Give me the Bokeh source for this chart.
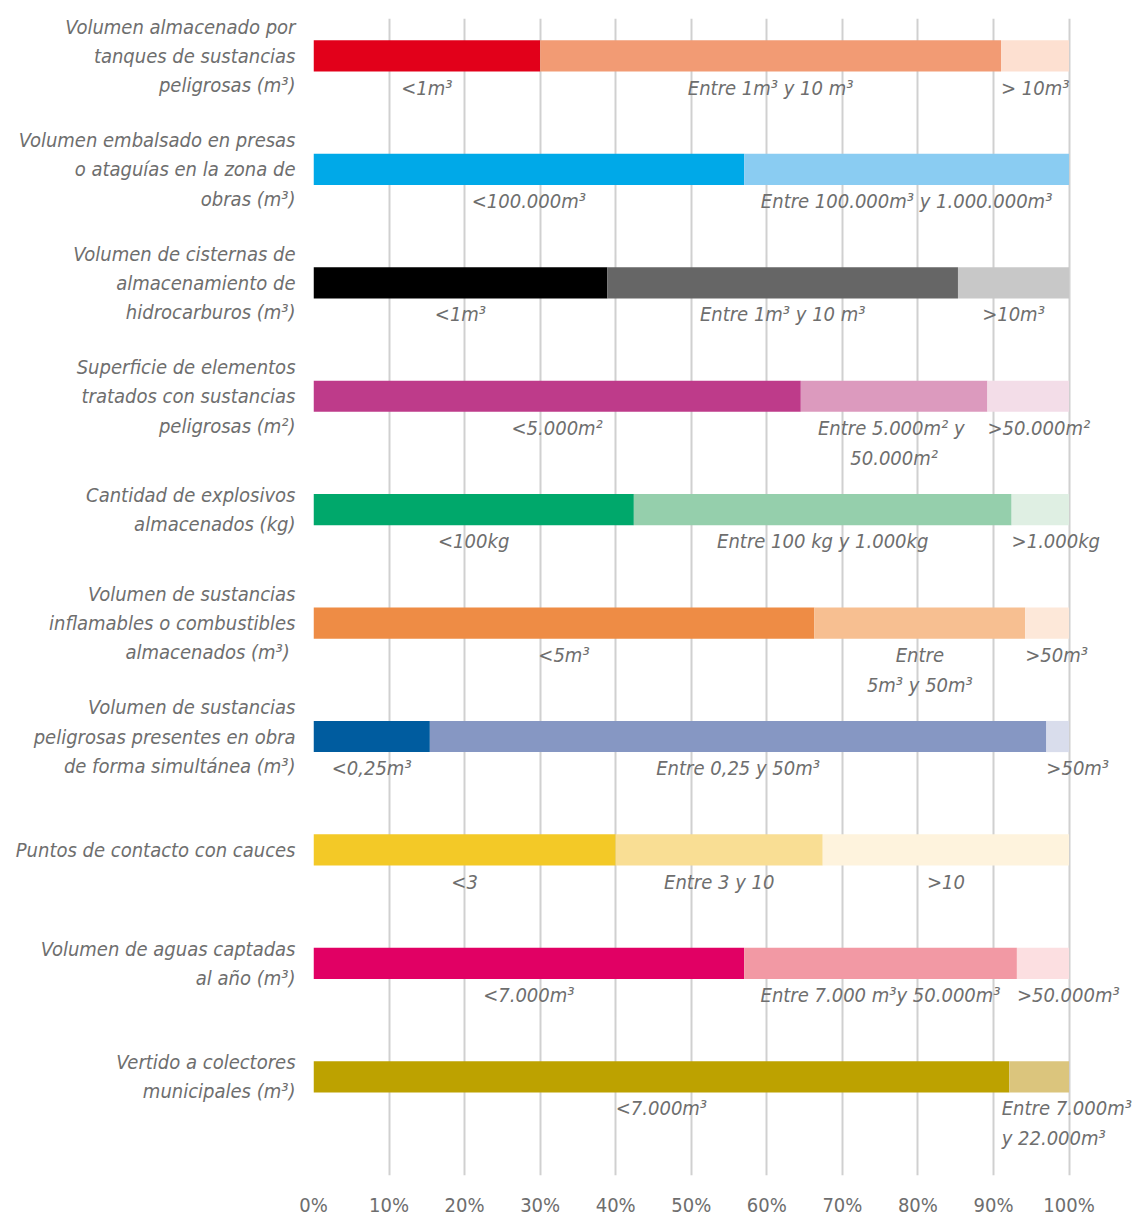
from bokeh.plotting import figure
from bokeh.models import ColumnDataSource, FixedTicker, Range1d
from bokeh.embed import file_html
from bokeh.resources import INLINE
from bokeh.core.properties import value

categories = [
    "Volumen almacenado por\ntanques de sustancias\npeligrosas (m³)",
    "Volumen embalsado en presas\no ataguías en la zona de\nobras (m³)",
    "Volumen de cisternas de\nalmacenamiento de\nhidrocarburos (m³)",
    "Superficie de elementos\ntratados con sustancias\npeligrosas (m²)",
    "Cantidad de explosivos\nalmacenados (kg)",
    "Volumen de sustancias\ninflamables o combustibles\nalmacenados  (m³)",
    "Volumen de sustancias\npeligrosas presentes en obra\nde forma simultánea (m³)",
    "Puntos de contacto con cauces",
    "Volumen de aguas captadas\nal año (m³)",
    "Vertido a colectores\nmunicipales (m³)",
]

seg_low = [30, 57, 38.9, 64.5, 42.4, 66.3, 15.4, 40, 57, 92.1]
seg_mid = [61, 43, 46.4, 24.7, 50, 27.9, 81.6, 27.4, 36.1, 7.9]
seg_high = [9, 0, 14.7, 10.8, 7.6, 5.8, 3.0, 32.6, 6.9, 0]

low_labels = ["<1m³", "<100.000m³", "<1m³", "<5.000m²", "<100kg", "<5m³",
              "<0,25m³", "<3", "<7.000m³", "<7.000m³"]
mid_labels = ["Entre 1m³ y 10 m³", "Entre 100.000m³ y 1.000.000m³", "Entre 1m³ y 10 m³",
              "Entre 5.000m²  y\n50.000m²", "Entre 100 kg y 1.000kg", "Entre\n5m³ y 50m³",
              "Entre 0,25 y 50m³", "Entre 3 y 10", "Entre 7.000 m³y 50.000m³",
              "Entre 7.000m³\ny 22.000m³"]
high_labels = ["> 10m³", "", ">10m³", ">50.000m²", ">1.000kg", ">50m³", ">50m³",
               ">10", ">50.000m³", ""]

x_ticks = [0, 10, 20, 30, 40, 50, 60, 70, 80, 90, 100]
x_tick_labels = [f"{t}%" for t in x_ticks]

dark = ["#E2001A", "#00A9E8", "#000000", "#BE3B8A", "#00A86B", "#EE8C45",
        "#005C9F", "#F3C927", "#E10064", "#BDA200"]
midc = ["#F29B74", "#8ACCF2", "#666666", "#DC9ABE", "#95CFAC", "#F7BF91",
        "#8697C3", "#F9DE94", "#F299A4", "#DBC57D"]
light = ["#FDE0D1", "#FFFFFF", "#C8C8C8", "#F3DDE8", "#DFEFE3", "#FDE8D9",
         "#D9DDEC", "#FEF3DD", "#FCDFE1", "#FFFFFF"]

BAR_H = 0.275
TEXT_FONT = "'DejaVu Sans Condensed', sans-serif"
TEXT_COLOR = "#6e6e6e"
FS = "20px"
CHAR_PX = 9.6          # approx. width of one character at FS
W, H = 1132, 1220
LEFT_PX = 313
X_MAX = 108.4
PX_PER_UNIT = (W - LEFT_PX) / X_MAX

bars = dict(left=[], right=[], y=[], color=[])
labs = dict(x=[], y=[], text=[], align=[], dx=[])
for i in range(len(categories)):
    segs = [(seg_low[i], dark[i], low_labels[i]),
            (seg_mid[i], midc[i], mid_labels[i]),
            (seg_high[i], light[i], high_labels[i])]
    segs = [s for s in segs if s[0] > 0]
    cum = 0.0
    for k, (v, c, lab) in enumerate(segs):
        bars["left"].append(cum)
        bars["right"].append(cum + v)
        bars["y"].append(i)
        bars["color"].append(c)
        last = k == len(segs) - 1
        dx = 0
        if last and v < 11:
            labs["x"].append(cum)
            labs["align"].append("left")
            # keep the label inside the canvas
            width = max(len(s) for s in lab.split("\n")) * CHAR_PX
            room = (X_MAX - cum) * PX_PER_UNIT - 6
            if width > room:
                dx = room - width
        else:
            labs["x"].append(cum + v / 2)
            labs["align"].append("center")
        labs["dx"].append(dx)
        labs["y"].append(i + BAR_H / 2)
        labs["text"].append(lab)
        cum += v

p = figure(width=W, height=H, output_backend="svg", toolbar_location=None,
           x_range=Range1d(0, X_MAX), y_range=Range1d(9.87, -0.33),
           min_border_left=LEFT_PX, min_border_right=0, min_border_top=18,
           min_border_bottom=45)
p.outline_line_color = None
p.background_fill_color = "white"
p.border_fill_color = "white"

p.hbar(y="y", left="left", right="right", height=BAR_H, color="color",
       line_color=None, source=ColumnDataSource(bars))

p.text(x="x", y="y", text="text", text_align="align", text_baseline="top",
       x_offset="dx", y_offset=4, text_font=value(TEXT_FONT), text_font_style="italic",
       text_font_size=FS, text_color=TEXT_COLOR, text_line_height=1.25,
       source=ColumnDataSource(labs))

# x axis
p.xaxis.ticker = FixedTicker(ticks=x_ticks)
p.xaxis.major_label_overrides = {t: l for t, l in zip(x_ticks, x_tick_labels)}
p.xaxis.axis_line_color = None
p.xaxis.major_tick_line_color = None
p.xaxis.minor_tick_line_color = None
p.xaxis.major_tick_in = 0
p.xaxis.major_tick_out = 0
p.xaxis.major_label_standoff = 17
p.xaxis.major_label_text_font = TEXT_FONT
p.xaxis.major_label_text_font_size = FS
p.xaxis.major_label_text_color = TEXT_COLOR

p.xgrid.ticker = FixedTicker(ticks=x_ticks)
p.xgrid.grid_line_color = "#D0D0D0"
p.xgrid.grid_line_width = 2
p.ygrid.grid_line_color = None

# y axis
p.yaxis.ticker = FixedTicker(ticks=list(range(len(categories))))
p.yaxis.major_label_overrides = {i: c for i, c in enumerate(categories)}
p.yaxis.axis_line_color = None
p.yaxis.major_tick_line_color = None
p.yaxis.minor_tick_line_color = None
p.yaxis.major_tick_in = 0
p.yaxis.major_tick_out = 0
p.yaxis.major_label_standoff = 18
p.yaxis.major_label_text_font = TEXT_FONT
p.yaxis.major_label_text_font_style = "italic"
p.yaxis.major_label_text_font_size = FS
p.yaxis.major_label_text_color = TEXT_COLOR
p.yaxis.major_label_text_line_height = 1.22

open("out.html", "w").write(file_html(p, INLINE))
